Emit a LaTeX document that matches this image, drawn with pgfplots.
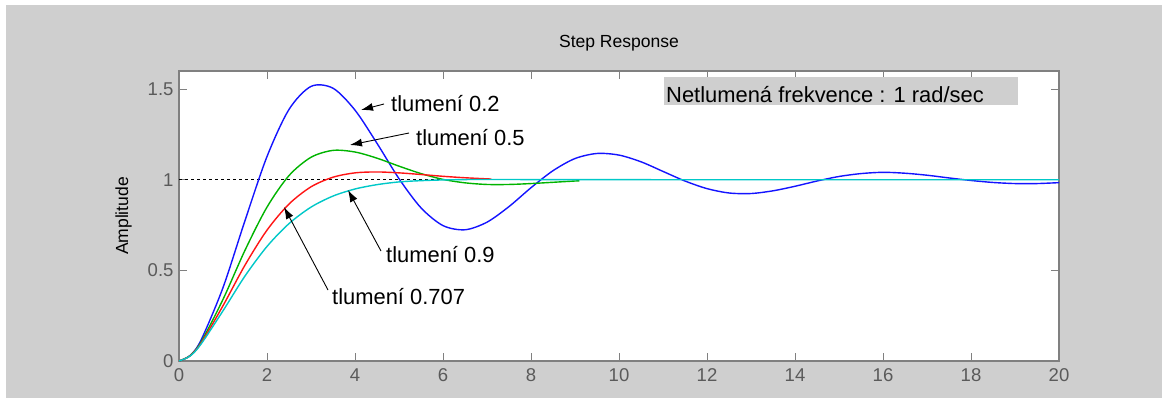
\documentclass[border=0pt]{standalone}
\usepackage{fontspec}
\setmainfont{Liberation Sans}
\usepackage{pgfplots}
\pgfplotsset{compat=1.18}
\usetikzlibrary{arrows.meta}
\definecolor{figgray}{RGB}{207,207,207}
\definecolor{axgray}{RGB}{128,128,128}
\definecolor{tickgray}{RGB}{90,90,90}
\definecolor{mgreen}{RGB}{0,180,0}
\definecolor{mcyan}{RGB}{0,200,200}
\definecolor{mblue}{RGB}{20,20,255}
\definecolor{mred}{RGB}{255,20,20}
\begin{document}
\begin{tikzpicture}[x=1bp,y=1bp]
\fill[white] (0,0) rectangle (1162,398);
\fill[figgray] (6,0) rectangle (1162,393);
\begin{axis}[
  at={(179bp,37bp)}, anchor=south west,
  scale only axis, width=880bp, height=290bp,
  xmin=0, xmax=20, ymin=0, ymax=1.6,
  xtick={0,2,...,20}, ytick={0,0.5,1,1.5},
  yticklabels={0,0.5,1,1.5},
  axis background/.style={fill=white},
  axis line style={axgray, line width=1.3bp},
  tick style={axgray, line width=1bp},
  major tick length=8bp, tick align=inside,
  /pgf/number format/assume math mode=true,
  ticklabel style={font=\fontsize{18.6}{20}\selectfont, text=tickgray},
  every x tick label/.append style={yshift=-4bp},
  every y tick label/.append style={xshift=-2bp},
  title={Step Response},
  title style={font=\fontsize{17.6}{20}\selectfont, anchor=base, at={(0.5,1)}, yshift=18bp},
]
\addplot[black, line width=1.4bp, dash pattern=on 3bp off 3bp] coordinates {(0,1) (20,1)};
\addplot[mblue, line width=1.4bp, smooth] coordinates {
(0,0) (0.25,0.030) (0.5,0.115) (1,0.405) (1.5,0.775) (2,1.128) (2.5,1.388) (3,1.515) (3.5,1.505)
(4,1.384) (4.5,1.201) (5,1.006) (5.5,0.845) (6,0.747) (6.5,0.724) (7,0.766) (7.5,0.852)
(8,0.956) (8.5,1.050) (9,1.117) (9.5,1.145) (10,1.136) (10.5,1.099) (11,1.046) (11.5,0.993)
(12,0.951) (12.5,0.927) (13,0.924) (13.5,0.939) (14,0.964) (14.5,0.993) (15,1.018) (15.5,1.034)
(16,1.041) (16.5,1.036) (17,1.025) (17.5,1.010) (18,0.996) (18.5,0.985) (19,0.979) (19.5,0.979) (20,0.984)};
\addplot[mgreen, line width=1.4bp, smooth] coordinates {
(0,0) (0.25,0.029) (0.5,0.104) (1,0.340) (1.5,0.611) (2,0.849) (2.5,1.023) (3,1.124) (3.5,1.162) (4,1.153)
(4.5,1.119) (5,1.075) (5.5,1.034) (6,1.002) (6.5,0.983) (7,0.974) (7.5,0.974) (8,0.979)
(8.5,0.986) (9,0.993) (9.1,0.994)};
\addplot[mred, line width=1.4bp, smooth] coordinates {
(0,0) (0.25,0.028) (0.5,0.098) (1,0.305) (1.5,0.529) (2,0.722) (2.5,0.866) (3,0.961) (3.5,1.014) (4,1.038)
(4.5,1.043) (5,1.038) (5.5,1.029) (6,1.019) (6.5,1.011) (7,1.005) (7.1,1.004)};
\addplot[mcyan, line width=1.4bp, smooth] coordinates {
(0,0) (0.25,0.027) (0.5,0.093) (1,0.277) (1.5,0.469) (2,0.632) (2.5,0.758) (3,0.849) (3.5,0.910) (4,0.949)
(4.5,0.973) (5,0.988) (5.5,0.995) (6,0.999) (6.5,1.001) (7,1.0015) (8,1.001) (10,1.0005)
(12,1.0) (16,1.0) (20,1.0)};
\end{axis}
% y label
\node[rotate=90, anchor=base, font=\fontsize{17.6}{20}\selectfont] at (128,182) {Amplitude};
% legend-like text box
\fill[figgray] (664,293) rectangle (1018,321);
\node[anchor=base west, inner sep=0pt, font=\fontsize{22}{24}\selectfont] at (666,296) {Netlumená frekvence : 1 rad/sec};
% annotations
\tikzset{ann/.style={anchor=base west, inner sep=0pt, font=\fontsize{22}{24}\selectfont},
         annarr/.style={black, line width=0.9bp, -{Latex[length=12bp,width=8bp]}}}
\node[ann] at (391,287) {tlumení 0.2};
\draw[annarr] (384,294) -- (361,288);
\node[ann] at (416,253) {tlumení 0.5};
\draw[annarr] (409,265) -- (350,253);
\node[ann] at (386,136) {tlumení 0.9};
\draw[annarr] (381,147) -- (348,208);
\node[ann] at (332,94) {tlumení 0.707};
\draw[annarr] (328,108) -- (284,191);
\end{tikzpicture}
\end{document}
